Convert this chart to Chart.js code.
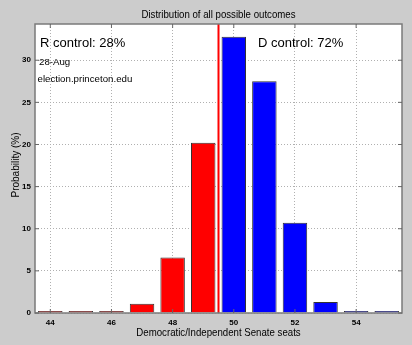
<!DOCTYPE html>
<html lang="en">
<head>
    <meta charset="UTF-8">
    <title>Distribution of all possible outcomes</title>
    <script src="https://cdn.jsdelivr.net/npm/chart.js"></script>
    <style>
        * { margin: 0; padding: 0; box-sizing: border-box; }
        body { background: #cccccc; width: 412px; height: 345px; overflow: hidden; }
        canvas { display: block; }
    </style>
</head>
<body>
    <canvas id="outcomeChart" width="412" height="345"></canvas>

    <script>
        // seats and probabilities
        const seats = ['44', '45', '46', '47', '48', '49', '50', '51', '52', '53', '54', '55'];
        const probability = [0.05, 0.05, 0.15, 1.1, 6.6, 20.2, 32.8, 27.5, 10.7, 1.3, 0.05, 0.05];
        const cutoff = 49.5;           // control threshold (red line)
        const yTickValues = [0, 5, 10, 15, 20, 25, 30];
        const yMax = 34.3;

        const FONT = '"Liberation Sans", Arial, sans-serif';

        const barColors = seats.map(s => Number(s) < cutoff ? '#ff0000' : '#0000ff');

        // narrow-ish text like the original helvetica rendering
        function narrowText(ctx, text, x, y, squeeze) {
            ctx.save();
            ctx.translate(x, y);
            ctx.scale(squeeze, 1);
            ctx.fillText(text, 0, 0);
            ctx.restore();
        }

        // white plot box, frame, red line and text labels
        const decorations = {
            id: 'decorations',
            beforeDraw(chart) {
                const { ctx, chartArea: a } = chart;
                ctx.save();
                ctx.fillStyle = '#ffffff';
                ctx.fillRect(a.left, a.top, a.right - a.left, a.bottom - a.top);
                ctx.restore();
            },
            afterDatasetsDraw(chart) {
                const { ctx, chartArea: a, scales } = chart;
                ctx.save();

                // threshold line
                const xc = scales.x.getPixelForValue(cutoff - Number(seats[0]));
                ctx.strokeStyle = '#ff0000';
                ctx.lineWidth = 2;
                ctx.beginPath();
                ctx.moveTo(xc, a.top);
                ctx.lineTo(xc, a.bottom);
                ctx.stroke();

                // frame
                ctx.strokeStyle = '#7a7a7a';
                ctx.lineWidth = 1.5;
                ctx.strokeRect(a.left, a.top, a.right - a.left, a.bottom - a.top);

                // inward tick marks (matlab style)
                ctx.lineWidth = 1;
                ctx.strokeStyle = '#666666';
                seats.forEach((s, i) => {
                    if (Number(s) % 2) return;
                    const x = scales.x.getPixelForValue(i);
                    ctx.beginPath();
                    ctx.moveTo(x, a.bottom); ctx.lineTo(x, a.bottom - 4);
                    ctx.moveTo(x, a.top); ctx.lineTo(x, a.top + 4);
                    ctx.stroke();
                });
                yTickValues.forEach(v => {
                    const y = scales.y.getPixelForValue(v);
                    ctx.beginPath();
                    ctx.moveTo(a.left, y); ctx.lineTo(a.left + 4, y);
                    ctx.moveTo(a.right, y); ctx.lineTo(a.right - 4, y);
                    ctx.stroke();
                });

                // text inside the plot
                ctx.fillStyle = '#000000';
                ctx.textBaseline = 'alphabetic';
                ctx.textAlign = 'left';
                ctx.font = '13px ' + FONT;
                ctx.fillText('R control: 28%', a.left + 5, a.top + 23);
                ctx.fillText('D control: 72%', 258, a.top + 23);
                ctx.font = '9.7px ' + FONT;
                ctx.fillText('28-Aug', a.left + 4, a.top + 41);
                ctx.fillText('election.princeton.edu', a.left + 2.5, a.top + 58);

                // title and axis titles
                const cx = (a.left + a.right) / 2;
                ctx.textAlign = 'center';
                ctx.font = '10.5px ' + FONT;
                narrowText(ctx, 'Distribution of all possible outcomes', cx, 18, 0.92);
                narrowText(ctx, 'Democratic/Independent Senate seats', cx, 336, 0.92);

                ctx.font = '10px ' + FONT;
                ctx.translate(19, 165);
                ctx.rotate(-Math.PI / 2);
                ctx.fillText('Probability (%)', 0, 0);
                ctx.restore();
            }
        };

        new Chart(document.getElementById('outcomeChart'), {
            type: 'bar',
            data: {
                labels: seats,
                datasets: [{
                    data: probability,
                    backgroundColor: barColors,
                    borderColor: '#333333',
                    borderWidth: 1,
                    minBarLength: 2,
                    barPercentage: 0.8,
                    categoryPercentage: 1.0
                }]
            },
            options: {
                responsive: false,
                devicePixelRatio: 1,
                animation: false,
                layout: { padding: { top: 24, right: 10, left: 0, bottom: 0 } },
                plugins: {
                    legend: { display: false },
                    title: { display: false },
                    tooltip: { enabled: false }
                },
                scales: {
                    x: {
                        offset: true,
                        afterFit(s) { s.height = 32; },
                        border: { display: false, dash: [1, 2] },
                        grid: {
                            offset: false,
                            drawTicks: false,
                            color: ctx => (ctx.index % 2 === 0 ? '#b0b0b0' : 'rgba(0,0,0,0)'),
                            lineWidth: 1
                        },
                        ticks: {
                            autoSkip: false,
                            maxRotation: 0,
                            padding: 5,
                            color: '#000000',
                            font: { family: FONT, size: 8, weight: 'bold' },
                            callback(v, i) { return Number(seats[i]) % 2 === 0 ? seats[i] : ''; }
                        }
                    },
                    y: {
                        min: 0,
                        max: yMax,
                        afterFit(s) { s.width = 35; },
                        border: { display: false, dash: [1, 2] },
                        grid: { drawTicks: false, color: '#b0b0b0' },
                        ticks: {
                            stepSize: 5,
                            includeBounds: false,
                            padding: 4,
                            color: '#000000',
                            font: { family: FONT, size: 8, weight: 'bold' }
                        }
                    }
                }
            },
            plugins: [decorations]
        });
    </script>
</body>
</html>
